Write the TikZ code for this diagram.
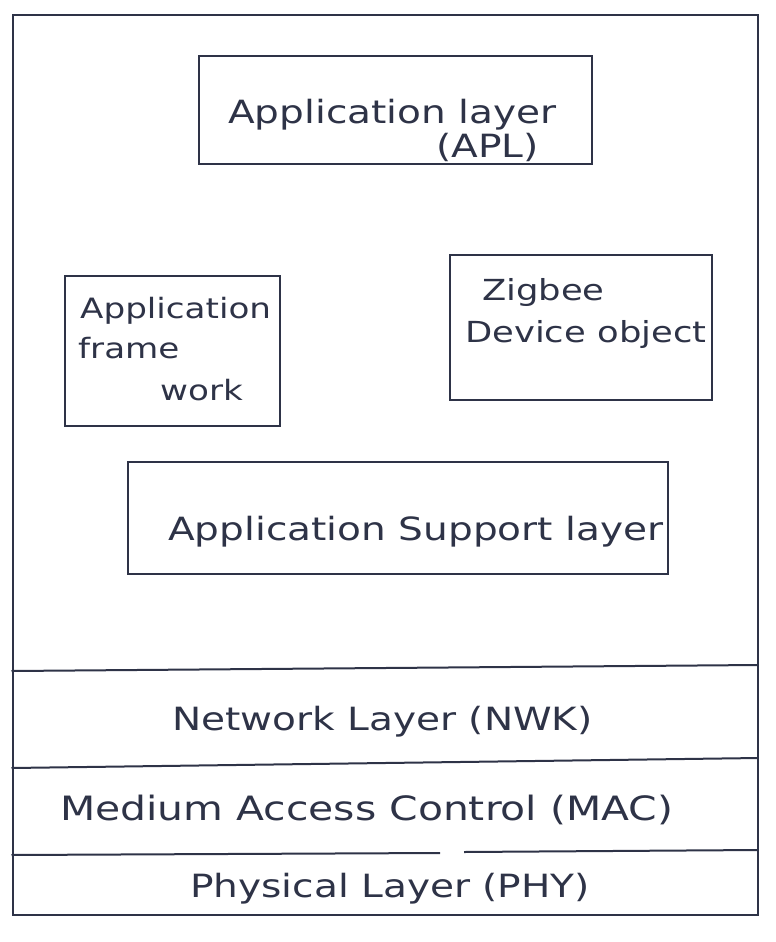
\documentclass[tikz,border=0pt]{standalone}
\usepackage{fontspec}
\setmainfont{DejaVu Sans}
\newfontfamily\handfont[FakeStretch=1.22]{DejaVu Sans}
\definecolor{ink}{rgb}{0.18,0.2,0.28}
\begin{document}
\begin{tikzpicture}[x=1pt,y=-1pt,
  box/.style={draw=ink,line width=2pt,rectangle,inner sep=0pt},
  sep/.style={draw=ink,line width=2pt},
  lbl/.style={text=ink,font=\handfont\fontsize{32}{38}\selectfont,inner sep=0pt,anchor=base west},
  wide/.style={font=\handfont\fontsize{33.5}{40}\selectfont},
  small/.style={font=\handfont\fontsize{28}{34}\selectfont},
  mid/.style={font=\handfont\fontsize{29}{35}\selectfont}]
  \useasboundingbox (0,0) rectangle (776,942);
  % outer frame
  \node[box,minimum width=745pt,minimum height=900pt] (stack) at (385,465) {};
  % application layer blocks
  \node[box,minimum width=393pt,minimum height=108pt] (apl) at (395,110) {};
  \node[box,minimum width=215pt,minimum height=150pt] (afw) at (172,351) {};
  \node[box,minimum width=262pt,minimum height=145pt] (zdo) at (581,327) {};
  \node[box,minimum width=540pt,minimum height=112pt] (aps) at (398,518) {};
  % layer separators
  \coordinate (s1w) at (stack.west |- 0,671);
  \coordinate (s1e) at (stack.east |- 0,665);
  \coordinate (s2w) at (stack.west |- 0,768);
  \coordinate (s2e) at (stack.east |- 0,758);
  \coordinate (s3w) at (stack.west |- 0,855);
  \coordinate (s3a) at (440,853);
  \coordinate (s3b) at (464,852);
  \coordinate (s3e) at (stack.east |- 0,850);
  \draw[sep] (s1w) -- (s1e);
  \draw[sep] (s2w) -- (s2e);
  \draw[sep] (s3w) -- (s3a);
  \draw[sep] (s3b) -- (s3e);
  % labels
  \node[lbl] (t1) at (228,123) {Application layer};
  \node[lbl] (t2) at (436,157) {(APL)};
  \node[lbl,small] (t3) at (80,318) {Application};
  \node[lbl,small] (t4) at (78,358) {frame};
  \node[lbl,small] (t5) at (160,400) {work};
  \node[lbl,mid] (t6) at (482,300) {Zigbee};
  \node[lbl,mid] (t7) at (465,342) {Device object};
  \node[lbl] (t8) at (168,540) {Application Support layer};
  \node[lbl] (t9) at (172,730) {Network Layer (NWK)};
  \node[lbl,wide] (t10) at (60,820) {Medium Access Control (MAC)};
  \node[lbl] (t11) at (190,897) {Physical Layer (PHY)};
\end{tikzpicture}
\end{document}
